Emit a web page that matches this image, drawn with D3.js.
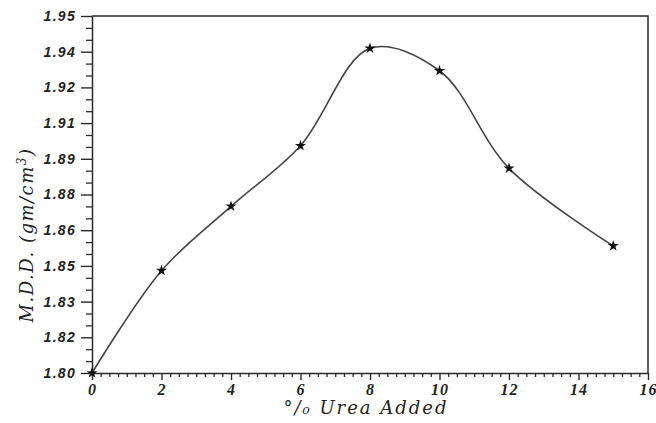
<!DOCTYPE html>
<html>
<head>
<meta charset="utf-8">
<script src="https://cdn.jsdelivr.net/npm/d3@7"></script>
<style>
  html, body { margin: 0; padding: 0; background: #fff; }
  svg { display: block; }
</style>
</head>
<body>
<svg id="chart" width="656" height="423"></svg>
<script>
// Data
const ureaPercent = [0, 2, 4, 6, 8, 10, 12, 15];
const mddValues = [1.800, 1.843, 1.870, 1.8955, 1.9364, 1.927, 1.886, 1.8534];
const xTickValues = [0, 2, 4, 6, 8, 10, 12, 14, 16];
const yTickValues = [1.80, 1.815, 1.83, 1.845, 1.86, 1.875, 1.89, 1.905, 1.92, 1.935, 1.95];
const yTickLabels = ["1.80", "1.82", "1.83", "1.85", "1.86", "1.88", "1.89", "1.91", "1.92", "1.94", "1.95"];

(function () {
const svg = d3.select("#chart");
const mLeft = 92, mRight = 648, mTop = 16, mBottom = 373;

const x = d3.scaleLinear().domain([0, 16]).range([mLeft, mRight]);
const y = d3.scaleLinear().domain([1.80, 1.95]).range([mBottom, mTop]);

const ink = "#2a2a2a";

// frame (top and right)
svg.append("path")
  .attr("d", `M${mLeft},${mTop}H${mRight}V${mBottom}`)
  .attr("fill", "none").attr("stroke", ink).attr("stroke-width", 1.5);

// x minor ticks
const xMinor = d3.range(0, 16.001, 0.25).filter(v => Math.abs(v / 2 - Math.round(v / 2)) > 1e-6);
const xAxisMinor = d3.axisBottom(x).tickValues(xMinor).tickSize(4).tickFormat("");
svg.append("g").attr("transform", `translate(0,${mBottom})`).call(xAxisMinor)
  .call(g => g.select(".domain").remove())
  .call(g => g.selectAll("line").attr("stroke", ink).attr("stroke-width", 1.3));

const xAxis = d3.axisBottom(x).tickValues(xTickValues).tickSize(7).tickSizeOuter(0).tickPadding(4)
  .tickFormat(d3.format("d"));
svg.append("g").attr("transform", `translate(0,${mBottom})`).call(xAxis)
  .call(g => g.select(".domain").attr("stroke", ink).attr("stroke-width", 1.5))
  .call(g => g.selectAll("line").attr("stroke", ink).attr("stroke-width", 1.4))
  .call(g => g.selectAll("text")
    .attr("fill", "#222")
    .style("font-family", "'Liberation Serif', serif")
    .style("font-style", "italic").style("font-weight", "bold")
    .style("font-size", "16px")
    .style("letter-spacing", "1px"));

// y minor ticks
const yMinor = d3.range(0, 31).map(i => 1.80 + i * 0.005).filter((v, i) => i % 3 !== 0);
const yAxisMinor = d3.axisLeft(y).tickValues(yMinor).tickSize(6).tickFormat("");
svg.append("g").attr("transform", `translate(${mLeft},0)`).call(yAxisMinor)
  .call(g => g.select(".domain").remove())
  .call(g => g.selectAll("line").attr("stroke", ink).attr("stroke-width", 1.3));

const yAxis = d3.axisLeft(y).tickValues(yTickValues).tickSize(11).tickSizeOuter(0).tickPadding(5)
  .tickFormat((d, i) => yTickLabels[i]);
svg.append("g").attr("transform", `translate(${mLeft},0)`).call(yAxis)
  .call(g => g.select(".domain").attr("stroke", ink).attr("stroke-width", 1.5))
  .call(g => g.selectAll("line").attr("stroke", ink).attr("stroke-width", 1.4))
  .call(g => g.selectAll("text")
    .attr("fill", "#222")
    .style("font-family", "'Liberation Sans', sans-serif")
    .style("font-style", "italic").style("font-weight", "bold")
    .style("font-size", "14px")
    .style("letter-spacing", "1.3px"));

// curve
const pts = ureaPercent.map((u, i) => [u, mddValues[i]]);
const line = d3.line().x(d => x(d[0])).y(d => y(d[1])).curve(d3.curveCatmullRom.alpha(0.5));
svg.append("path").datum(pts)
  .attr("d", line)
  .attr("fill", "none").attr("stroke", "#444").attr("stroke-width", 1.6);

// markers
svg.append("g").selectAll("path").data(pts).join("path")
  .attr("transform", d => `translate(${x(d[0])},${y(d[1])})`)
  .attr("d", d3.symbol().type(d3.symbolStar).size(38))
  .attr("fill", "#111");

// axis titles
svg.append("text")
  .attr("x", 366).attr("y", 414)
  .attr("text-anchor", "middle")
  .attr("fill", "#222")
  .style("font-family", "'DejaVu Serif', serif")
  .style("font-style", "italic")
  .style("font-size", "18px")
  .style("letter-spacing", "2px")
  .text("°/\u2080 Urea Added");

const yt = svg.append("text")
  .attr("transform", "translate(33,235) rotate(-90)")
  .attr("text-anchor", "middle")
  .attr("fill", "#222")
  .style("font-family", "'DejaVu Serif', serif")
  .style("font-style", "italic")
  .style("font-size", "18px")
  .style("letter-spacing", "1.5px");
yt.append("tspan").text("M.D.D.  (gm/cm");
yt.append("tspan").attr("baseline-shift", "super").style("font-size", "12px").text("3");
yt.append("tspan").text(")");
})();
</script>
</body>
</html>
